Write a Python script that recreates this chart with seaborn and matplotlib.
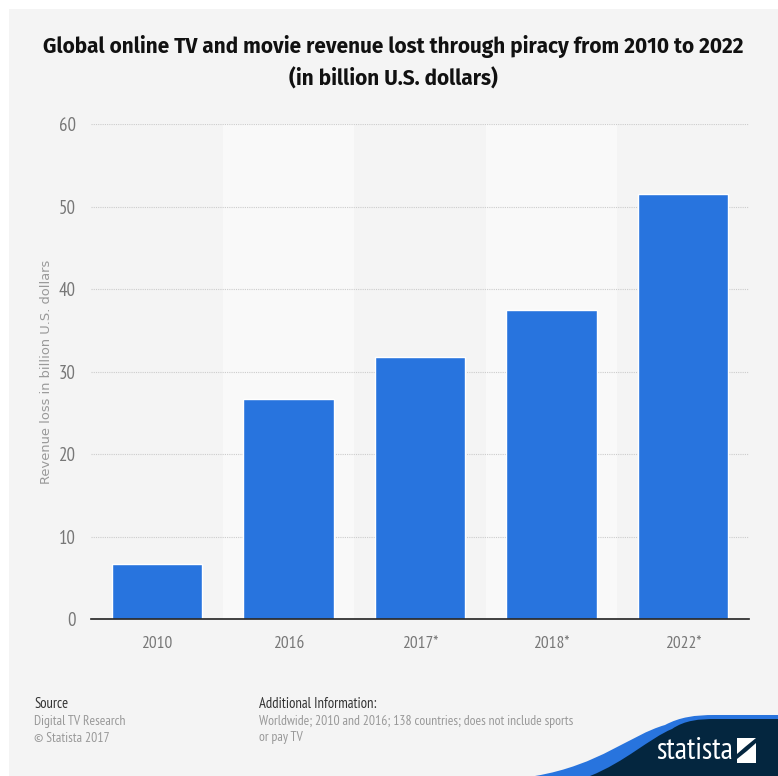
import matplotlib
matplotlib.use("Agg")
import matplotlib.pyplot as plt
from matplotlib.patches import PathPatch, Rectangle, Polygon
from matplotlib.path import Path
from matplotlib import font_manager as fm
import pandas as pd
import seaborn as sns

years = ["2010", "2016", "2017*", "2018*", "2022*"]
revenue_loss = [6.7, 26.7, 31.7, 37.4, 51.5]
y_ticks = [0, 10, 20, 30, 40, 50, 60]

title_lines = ["Global online TV and movie revenue lost through piracy from 2010 to 2022",
               "(in billion U.S. dollars)"]
y_label = "Revenue loss in billion U.S. dollars"

W, H = 778, 776
sns.set_theme(style="white")
names = {f.name for f in fm.fontManager.ttflist}
narrow = next((n for n in ("PT Sans Narrow", "Roboto Condensed", "Roboto") if n in names), "DejaVu Sans")
heading = next((n for n in ("Fira Sans", "Roboto") if n in names), "DejaVu Sans")
plt.rcParams["font.family"] = [narrow, "DejaVu Sans"]

fig = plt.figure(figsize=(W / 100, H / 100), dpi=100, facecolor="white")

# Full-canvas layer in pixel coordinates for the panel and the footer
bg = fig.add_axes([0, 0, 1, 1], zorder=0)
bg.set_xlim(0, W)
bg.set_ylim(H, 0)
bg.axis("off")
bg.add_patch(Rectangle((9, 9), W - 9, H - 9, fc="#f4f4f4", ec="none"))

ax = fig.add_axes([91 / W, 1 - 619 / H, (749 - 91) / W, (619 - 124) / H], zorder=1)
ax.patch.set_alpha(0)
data = pd.DataFrame({"year": years, "loss": revenue_loss})
for start in (0.5, 2.5):
    ax.axvspan(start, start + 1, color="#f9f9f9", lw=0, zorder=0)
sns.barplot(data=data, x="year", y="loss", color="#2874de", saturation=1,
            width=0.686, ax=ax, zorder=3)
ax.set_xlim(-0.5, 4.5)
ax.set_ylim(0, 60)
ax.set_yticks(y_ticks)
ax.set_xlabel("")
ax.set_ylabel("")
ax.grid(axis="y", color="#cccccc", linestyle=(0, (1, 1)), linewidth=0.8, zorder=1)
ax.set_axisbelow(True)
for side in ("top", "right", "left"):
    ax.spines[side].set_visible(False)
ax.spines["bottom"].set_color("#222222")
ax.spines["bottom"].set_linewidth(1.2)
ax.spines["bottom"].set_zorder(5)
ax.tick_params(axis="x", length=0, pad=12, labelsize=12.5, labelcolor="#777777")
ax.tick_params(axis="y", length=0, pad=11, labelsize=13.5, labelcolor="#777777")

for y, line in zip((46, 79), title_lines):
    bg.text(393.5, y, line, ha="center", va="center", fontsize=15, fontweight="bold",
            color="#111111", family=[heading, "DejaVu Sans"])
bg.text(47, 372, y_label, rotation=90, ha="center", va="center", fontsize=9.4,
        color="#999999", family=["DejaVu Sans"])

# Footer notes
bg.text(34, 704, "Source", ha="left", va="center", fontsize=10.5, color="#333333")
bg.text(34, 721, "Digital TV Research", ha="left", va="center", fontsize=9.8, color="#999999")
bg.text(34, 738, "© Statista 2017", ha="left", va="center", fontsize=9.8, color="#999999")
bg.text(259, 704, "Additional Information:", ha="left", va="center", fontsize=10.5, color="#333333")
bg.text(259, 721, "Worldwide; 2010 and 2016; 138 countries; does not include sports",
        ha="left", va="center", fontsize=9.8, color="#999999")
bg.text(259, 738, "or pay TV", ha="left", va="center", fontsize=9.8, color="#999999")

# Brand swoosh in the lower right corner
codes = [Path.MOVETO, Path.CURVE4, Path.CURVE4, Path.CURVE4, Path.CURVE4, Path.CURVE4, Path.CURVE4,
         Path.LINETO, Path.LINETO, Path.CLOSEPOLY]
blue = Path([(535, 776), (600, 765), (630, 735), (665, 725), (680, 717), (695, 715), (715, 715),
             (778, 715), (778, 776), (535, 776)], codes)
navy = Path([(590, 776), (625, 762), (650, 738), (672, 729), (685, 720), (700, 719), (715, 719),
             (778, 719), (778, 776), (590, 776)], codes)
bg.add_patch(PathPatch(blue, fc="#2874de", ec="none"))
bg.add_patch(PathPatch(navy, fc="#04263f", ec="none"))
bg.text(695, 751, "statista", ha="center", va="center", fontsize=22, color="white")
bg.add_patch(Polygon([(737, 738), (756, 738), (745, 747), (737, 754)], fc="white", ec="none"))
bg.add_patch(Polygon([(756, 743), (756, 763), (737, 763), (737, 759), (747, 751)], fc="white", ec="none"))

fig.savefig("out.png", dpi=100, facecolor="white")
